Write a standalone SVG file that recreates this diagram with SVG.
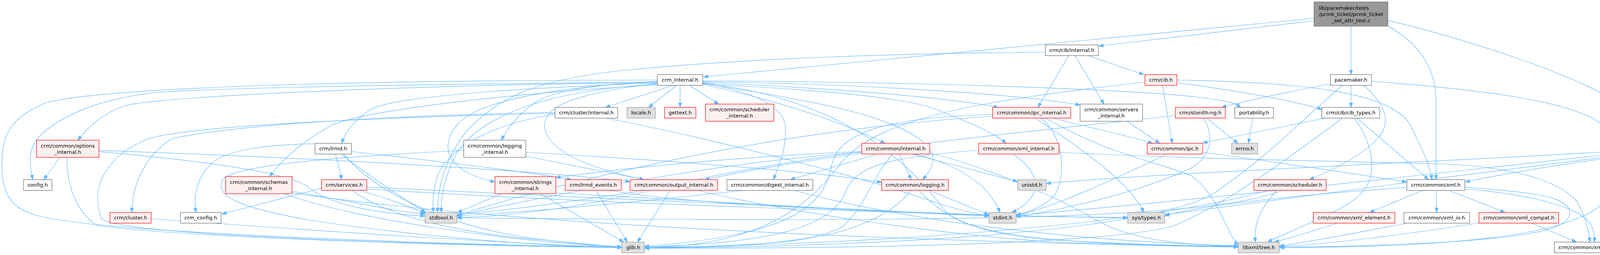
<svg xmlns="http://www.w3.org/2000/svg" width="4803" height="653" viewBox="0 0 4803 653">
<style>
.e path{fill:none;stroke:#63B8FF;stroke-width:1.2;marker-end:url(#ah)}
.n rect{stroke-width:1.2}
.w rect{fill:#FFFFFF;stroke:#666666}
.r rect{fill:#FFF0F0;stroke:#FF0000}
.g rect{fill:#E0E0E0;stroke:#999999}
.t rect{fill:#999999;stroke:#666666}
text{font-family:"DejaVu Sans","Liberation Sans",sans-serif;font-size:13px;fill:#000000;text-anchor:middle}
text.l{text-anchor:start}
</style>
<defs>
<marker id="ah" viewBox="0 0 12 9" refX="12" refY="4.5" markerWidth="12" markerHeight="9" markerUnits="userSpaceOnUse" orient="auto">
<path d="M0,0 L12,4.5 L0,9 z" fill="#63B8FF" stroke="#63B8FF" stroke-width="1"/>
</marker>
</defs>
<rect x="0" y="0" width="4803" height="653" fill="#FFFFFF"/>
<g id="edges" class="e">
<path d="M3364,47 L1801,197"/>
<path d="M3364,53 L2813,118"/>
<path d="M3458.5,67 L3458.5,191"/>
<path d="M3552,66 C3640,115 3676,180 3676,260 L3676,460"/>
<path d="M3553,52 C3750,100 4000,180 4120,250 C4180,290 4215,330 4234,359"/>
<path d="M1683,210 C1300,214 700,220 420,235 C250,250 150,300 100,350 C70,385 75,420 84,460"/>
<path d="M1683,205 C1000,205 300,220 120,262 C30,300 5,340 5,420 C5,520 40,550 173,566 C400,600 1200,628 1592,633"/>
<path d="M1683,212 C1200,215 500,240 330,268 C270,285 230,320 199,359"/>
<path d="M1683,216 C1400,230 1220,300 1165,400 C1135,460 1128,510 1130,544"/>
<path d="M1799,212 C2200,260 2350,450 2420,540 C2480,610 2800,630 3170,630"/>
<path d="M1683,213 C1300,225 1000,250 950,280 C910,305 885,335 875,367"/>
<path d="M1722,219 L1550,275"/>
<path d="M1732,219 L1660,275"/>
<path d="M1741,219 L1741,275"/>
<path d="M1765,219 L1840,266.5"/>
<path d="M1799,214 C2100,260 2300,300 2370,370 C2400,400 2390,430 2362,460"/>
<path d="M1799,213 C1900,230 2000,260 2010,320 C2015,380 1995,420 1980,460"/>
<path d="M1799,216 C2000,260 2150,310 2266,367"/>
<path d="M1683,214 C1450,240 1385,280 1395,330 C1410,400 1550,440 1650,460"/>
<path d="M1683,209 C1500,218 1400,235 1360,270 C1320,300 1300,330 1283,359"/>
<path d="M1683,208 C1400,225 1220,260 1170,320 C1120,380 1150,440 1267,466"/>
<path d="M1799,215 C2100,230 2350,250 2420,290 C2500,320 2550,345 2576,367"/>
<path d="M1799,211 C2100,225 2400,245 2556,275"/>
<path d="M1799,209 C2200,215 2600,240 2765,269"/>
<path d="M1799,207 C2400,210 2900,230 3060,248 C3130,256 3160,262 3176,275"/>
<path d="M1683,217 C1300,240 950,280 850,320 C780,360 730,400 690,452"/>
<path d="M2736,142.5 L2657,275"/>
<path d="M2752,142.5 L2826,266.5"/>
<path d="M2786,142.5 L2928,191"/>
<path d="M2676,134 C2300,136 1900,150 1600,180 C1350,205 1270,260 1200,330 C1140,400 1120,480 1120,544"/>
<path d="M2976,218.5 L3001,367"/>
<path d="M3013,212 C3150,230 3300,255 3385,280"/>
<path d="M3013,205 C3300,210 3560,230 3610,320 C3640,380 3660,420 3666,460"/>
<path d="M2931,210 C2500,260 2250,300 2150,420 C2050,560 1900,630 1650,634"/>
<path d="M3458.5,218.5 L3458.5,275"/>
<path d="M3406,215 C3300,235 3200,255 3127,275"/>
<path d="M3491,218.5 C3540,260 3565,310 3530,350 C3490,400 3400,440 3352,460"/>
<path d="M3437,218.5 C3350,290 3250,400 3100,500 C2900,600 2200,632 1650,635"/>
<path d="M3511,208 C3800,230 4050,260 4115,330 C4140,370 4135,460 4120,500 C4080,570 3900,634 3275,634"/>
<path d="M3393,302.5 L3079,366"/>
<path d="M3437,302.5 C3330,380 3150,520 3000,580 C2800,630 2100,636 1650,636"/>
<path d="M3467,302.5 C3510,360 3530,440 3490,490 C3450,540 3300,590 3245,620"/>
<path d="M3474,302.5 L3657,460"/>
<path d="M3089,302.5 L3169,367"/>
<path d="M3081,302.5 C3110,350 3100,400 3050,430 C2900,500 2700,540 2601,555"/>
<path d="M3009,296 C2600,340 2000,400 1700,480 C1500,530 1300,555 1170,557"/>
<path d="M3207,302.5 L3196,367"/>
<path d="M2696,302.5 C2800,330 2900,350 2951,367"/>
<path d="M2650,302.5 C2800,400 2900,480 2928,544"/>
<path d="M2665,302.5 C2725,350 2730,450 2700,500 C2670,530 2630,545 2601,550"/>
<path d="M2541,293 C2300,300 2150,330 2130,420 C2110,520 2050,600 1650,631"/>
<path d="M2541,298 C2000,330 1500,450 1170,551"/>
<path d="M2676,302.5 C2850,400 2950,410 3050,450 C3120,500 3140,600 3170,627"/>
<path d="M2885,310.5 L2969,367"/>
<path d="M2987,395 C2850,460 2700,530 2601,552"/>
<path d="M3079,390 C3300,420 3500,450 3601,466"/>
<path d="M2595,395 C2660,440 2680,500 2590,544"/>
<path d="M2505,385 C2300,400 2200,420 2170,480 C2140,560 2050,622 1650,632"/>
<path d="M2711,390 C3000,405 3300,410 3700,420 C3900,430 4000,470 4040,520 C4060,560 4068,590 4070,620"/>
<path d="M2302,395 L2333,460"/>
<path d="M2337,395 L2605,465"/>
<path d="M2342,395 C2450,420 2530,470 2560,544"/>
<path d="M2206,390 C1900,410 1500,480 1170,552"/>
<path d="M2284,395 C2230,460 2210,540 2150,585 C2050,630 1800,634 1650,634"/>
<path d="M2245,395 L2023,460"/>
<path d="M2207,393 C2000,420 1900,440 1804,460"/>
<path d="M2206,388 C1900,400 1600,430 1423,455"/>
<path d="M2380,392 C2500,420 2700,500 2800,560 C2900,620 3050,628 3170,629"/>
<path d="M2333,488 C2290,540 2200,600 2000,620 C1850,632 1700,634 1650,634"/>
<path d="M2380,488 L2532,550"/>
<path d="M2353,488 C2420,560 2500,600 2700,615 C2900,625 3050,630 3170,631"/>
<path d="M1715,488 L1632,620"/>
<path d="M1650,488 C1500,510 1300,540 1170,549"/>
<path d="M1789,488 C2000,540 2400,600 2700,620 C2900,628 3050,631 3170,632"/>
<path d="M1898,488 C1700,510 1400,540 1170,553"/>
<path d="M2034,488 C2300,560 2700,615 3170,630"/>
<path d="M1285,496 L1171,544"/>
<path d="M1383,496 L1597,620"/>
<path d="M1423,494 C1800,515 2300,545 2532,553"/>
<path d="M1526,488 L1606,620"/>
<path d="M1564,488 C1800,530 2500,555 2887,557"/>
<path d="M859,395 L875,460"/>
<path d="M899,388 C1100,410 1350,440 1463,460"/>
<path d="M874,395 C920,430 1000,490 1090,544"/>
<path d="M810,368 C700,370 580,380 540,420 C500,460 495,510 502,544"/>
<path d="M880,395 C950,480 1100,560 1300,600 C1450,625 1550,630 1592,632"/>
<path d="M823,482 L568,548"/>
<path d="M922,488 C1000,510 1050,530 1088,546"/>
<path d="M902,488 C1000,560 1200,600 1400,615 C1500,625 1560,630 1592,633"/>
<path d="M939,479 C1400,500 2200,540 2532,551"/>
<path d="M939,484 C1500,520 2400,550 2887,558"/>
<path d="M1346,400 C1450,420 1550,440 1649,460"/>
<path d="M1346,390 C1700,410 2100,440 2257,467"/>
<path d="M1187,385 C900,400 600,420 570,460 C550,500 600,530 800,565 C1100,610 1400,630 1592,634"/>
<path d="M153,403 L112,460"/>
<path d="M171,403 C172,470 190,540 250,578 C500,610 1200,630 1592,634"/>
<path d="M253,388 C500,410 740,440 790,480 C850,530 1000,550 1088,553"/>
<path d="M253,385 C800,405 1300,430 1613,465"/>
<path d="M727,496 C900,560 1300,620 1592,632"/>
<path d="M747,490 C900,515 1000,540 1088,548"/>
<path d="M747,494 C1200,560 2000,612 3170,633"/>
<path d="M1421,288 C1000,295 600,320 440,355 C370,400 340,470 337,544"/>
<path d="M1421,292 C1250,320 1150,380 1120,450 C1105,500 1108,530 1110,544"/>
<path d="M1550,302.5 C1800,350 2200,450 2400,520 C2480,545 2510,550 2532,552"/>
<path d="M1421,290 C1000,300 500,320 380,355 C270,400 230,480 260,560 C300,600 1000,625 1592,633"/>
<path d="M387,560 C800,590 1300,625 1592,633"/>
<path d="M3268,488 C3220,540 3210,580 3214,620"/>
<path d="M3243,488 C3000,560 2400,622 1650,634"/>
<path d="M3281,488 C3100,560 2500,570 1170,558"/>
<path d="M3641,488 L3506,544"/>
<path d="M3677,488 L3678,544"/>
<path d="M3710,488 L3853,544"/>
<path d="M3751,484 C3950,500 4060,540 4075,580 C4082,600 4082,610 4082,620"/>
<path d="M3751,480 C3900,490 4010,500 4018,540 C4025,580 3950,605 3700,620 C3500,630 3350,633 3277,633"/>
<path d="M3601,480 C3300,500 3050,530 2982,553"/>
<path d="M3422,572 C3350,595 3300,610 3262,620"/>
<path d="M3600,572 C3450,600 3350,620 3275,630"/>
<path d="M3786,571 C3600,600 3400,625 3275,632"/>
<path d="M3922,572 L4036,620"/>
<path d="M4237,403 L4213,460"/>
<path d="M4261,403 L4287,460"/>
<path d="M4284,403 L4374,460"/>
<path d="M4315,403 L4471,460"/>
<path d="M4328,397 C4450,420 4550,440 4609,460"/>
<path d="M4328,391 C4500,410 4650,430 4722,460"/>
<path d="M4167,398 C4000,420 3850,445 3751,466"/>
<path d="M4167,385 C3800,410 3000,440 2678,470"/>
<path d="M4167,390 C3800,430 3200,500 2601,552"/>
<path d="M4167,395 C3800,440 3200,520 2982,550"/>
</g>
<g id="n_top" class="n t"><rect x="3364" y="5" width="189" height="62"/><text class="l" x="3376" y="24.5">lib/pacemaker/tests</text><text class="l" x="3376" y="40.5">/pcmk_ticket/pcmk_ticket</text><text x="3458.5" y="56.5">_set_attr_test.c</text></g>
<g id="n_cib_internal" class="n w"><rect x="2676" y="115" width="136" height="27.5"/><text x="2744" y="133.3">crm/cib/internal.h</text></g>
<g id="n_crm_internal" class="n w"><rect x="1683" y="191" width="116" height="27.5"/><text x="1741" y="209.3">crm_internal.h</text></g>
<g id="n_cib_h" class="n r"><rect x="2931" y="191" width="82" height="27.5"/><text x="2972" y="209.3">crm/cib.h</text></g>
<g id="n_pacemaker" class="n w"><rect x="3406" y="191" width="105" height="27.5"/><text x="3458.5" y="209.3">pacemaker.h</text></g>
<g id="n_locale" class="n g"><rect x="1605" y="275" width="72.5" height="27.5"/><text x="1641.25" y="293.3">locale.h</text></g>
<g id="n_gettext" class="n r"><rect x="1701" y="275" width="80.5" height="27.5"/><text x="1741.25" y="293.3">gettext.h</text></g>
<g id="n_sched_int" class="n r"><rect x="1806" y="266.5" width="175" height="44"/><text x="1893.5" y="285">crm/common/scheduler</text><text x="1893.5" y="301">_internal.h</text></g>
<g id="n_cluster_int" class="n w"><rect x="1421" y="275" width="160" height="27.5"/><text x="1501" y="293.3">crm/cluster/internal.h</text></g>
<g id="n_ipc_int" class="n r"><rect x="2541" y="275" width="200" height="27.5"/><text x="2641" y="293.3">crm/common/ipc_internal.h</text></g>
<g id="n_servers_int" class="n w"><rect x="2765" y="266.5" width="160" height="44"/><text x="2845" y="285">crm/common/servers</text><text x="2845" y="301">_internal.h</text></g>
<g id="n_stonith" class="n r"><rect x="3009" y="275" width="128" height="27.5"/><text x="3073" y="293.3">crm/stonith-ng.h</text></g>
<g id="n_portability" class="n w"><rect x="3161" y="275" width="99" height="27.5"/><text x="3210.5" y="293.3">portability.h</text></g>
<g id="n_cib_types" class="n w"><rect x="3384" y="275" width="148" height="27.5"/><text x="3458" y="293.3">crm/cib/cib_types.h</text></g>
<g id="n_lrmd" class="n w"><rect x="806.5" y="367" width="93" height="27.5"/><text x="853" y="385.3">crm/lrmd.h</text></g>
<g id="n_logging_int" class="n w"><rect x="1187" y="359" width="159" height="44"/><text x="1266.5" y="377.5">crm/common/logging</text><text x="1266.5" y="393.5">_internal.h</text></g>
<g id="n_options_int" class="n r"><rect x="93.5" y="359" width="160" height="44"/><text x="173.5" y="377.5">crm/common/options</text><text x="173.5" y="393.5">_internal.h</text></g>
<g id="n_internal" class="n r"><rect x="2206" y="367" width="174" height="27.5"/><text x="2293" y="385.3">crm/common/internal.h</text></g>
<g id="n_xml_int" class="n r"><rect x="2505" y="367" width="206" height="27.5"/><text x="2608" y="385.3">crm/common/xml_internal.h</text></g>
<g id="n_ipc" class="n r"><rect x="2937" y="367" width="142" height="27.5"/><text x="3008" y="385.3">crm/common/ipc.h</text></g>
<g id="n_errno" class="n g"><rect x="3153" y="367" width="67" height="27.5"/><text x="3186.5" y="385.3">errno.h</text></g>
<g id="n_unittest" class="n w"><rect x="4167" y="359" width="161" height="44"/><text x="4247.5" y="377.5">crm/common/unittest</text><text x="4247.5" y="393.5">_internal.h</text></g>
<g id="n_config" class="n w"><rect x="60" y="460" width="73" height="27.5"/><text x="96.5" y="478.3">config.h</text></g>
<g id="n_services" class="n r"><rect x="823" y="460" width="116" height="27.5"/><text x="881" y="478.3">crm/services.h</text></g>
<g id="n_strings_int" class="n r"><rect x="1267" y="452" width="156" height="44"/><text x="1345" y="470.5">crm/common/strings</text><text x="1345" y="486.5">_internal.h</text></g>
<g id="n_lrmd_events" class="n r"><rect x="1447" y="460" width="143.5" height="27.5"/><text x="1518.75" y="478.3">crm/lrmd_events.h</text></g>
<g id="n_schemas_int" class="n r"><rect x="577.5" y="452" width="170" height="44"/><text x="662.5" y="470.5">crm/common/schemas</text><text x="662.5" y="486.5">_internal.h</text></g>
<g id="n_output_int" class="n r"><rect x="1613" y="460" width="224" height="27.5"/><text x="1725" y="478.3">crm/common/output_internal.h</text></g>
<g id="n_digest_int" class="n w"><rect x="1861" y="460" width="220" height="27.5"/><text x="1971" y="478.3">crm/common/digest_internal.h</text></g>
<g id="n_logging" class="n r"><rect x="2257" y="460" width="171" height="27.5"/><text x="2342.5" y="478.3">crm/common/logging.h</text></g>
<g id="n_unistd" class="n g"><rect x="2605" y="460" width="73" height="27.5"/><text x="2641.5" y="478.3">unistd.h</text></g>
<g id="n_scheduler" class="n r"><rect x="3210" y="460" width="185" height="27.5"/><text x="3302.5" y="478.3">crm/common/scheduler.h</text></g>
<g id="n_xml" class="n w"><rect x="3601.5" y="460" width="148.5" height="27.5"/><text x="3675.75" y="478.3">crm/common/xml.h</text></g>
<g id="n_signal" class="n g"><rect x="4166" y="460" width="73" height="27.5"/><text x="4202.5" y="478.3">signal.h</text></g>
<g id="n_stdarg" class="n g"><rect x="4263" y="460" width="74" height="27.5"/><text x="4300" y="478.3">stdarg.h</text></g>
<g id="n_setjmp" class="n g"><rect x="4360.5" y="460" width="78.5" height="27.5"/><text x="4399.75" y="478.3">setjmp.h</text></g>
<g id="n_resource" class="n g"><rect x="4463.5" y="460" width="115.5" height="27.5"/><text x="4521.25" y="478.3">sys/resource.h</text></g>
<g id="n_wait" class="n g"><rect x="4603" y="460" width="87" height="27.5"/><text x="4646.5" y="478.3">sys/wait.h</text></g>
<g id="n_cmocka" class="n g"><rect x="4714" y="460" width="83" height="27.5"/><text x="4755.5" y="478.3">cmocka.h</text></g>
<g id="n_cluster" class="n r"><rect x="281.5" y="544" width="105.5" height="27.5"/><text x="334.25" y="562.3">crm/cluster.h</text></g>
<g id="n_crm_config" class="n w"><rect x="462" y="544" width="104" height="27.5"/><text x="514" y="562.3">crm_config.h</text></g>
<g id="n_stdbool" class="n g"><rect x="1088" y="544" width="82" height="27.5"/><text x="1129" y="562.3">stdbool.h</text></g>
<g id="n_stdint" class="n g"><rect x="2532" y="544" width="69.5" height="27.5"/><text x="2566.75" y="562.3">stdint.h</text></g>
<g id="n_systypes" class="n g"><rect x="2887" y="544" width="95" height="27.5"/><text x="2934.5" y="562.3">sys/types.h</text></g>
<g id="n_xml_element" class="n r"><rect x="3362" y="544" width="209" height="27.5"/><text x="3466.5" y="562.3">crm/common/xml_element.h</text></g>
<g id="n_xml_io" class="n w"><rect x="3594" y="544" width="168" height="27.5"/><text x="3678" y="562.3">crm/common/xml_io.h</text></g>
<g id="n_xml_compat" class="n r"><rect x="3786" y="544" width="204" height="27.5"/><text x="3888" y="562.3">crm/common/xml_compat.h</text></g>
<g id="n_glib" class="n g"><rect x="1592" y="620" width="58" height="27.5"/><text x="1621" y="638.3">glib.h</text></g>
<g id="n_libxml" class="n g"><rect x="3170" y="620" width="105" height="27.5"/><text x="3222.5" y="638.3">libxml/tree.h</text></g>
<g id="n_xml_names" class="n w"><rect x="3979" y="620" width="198.5" height="27.5"/><text x="4078.25" y="638.3">crm/common/xml_names.h</text></g>
</svg>
